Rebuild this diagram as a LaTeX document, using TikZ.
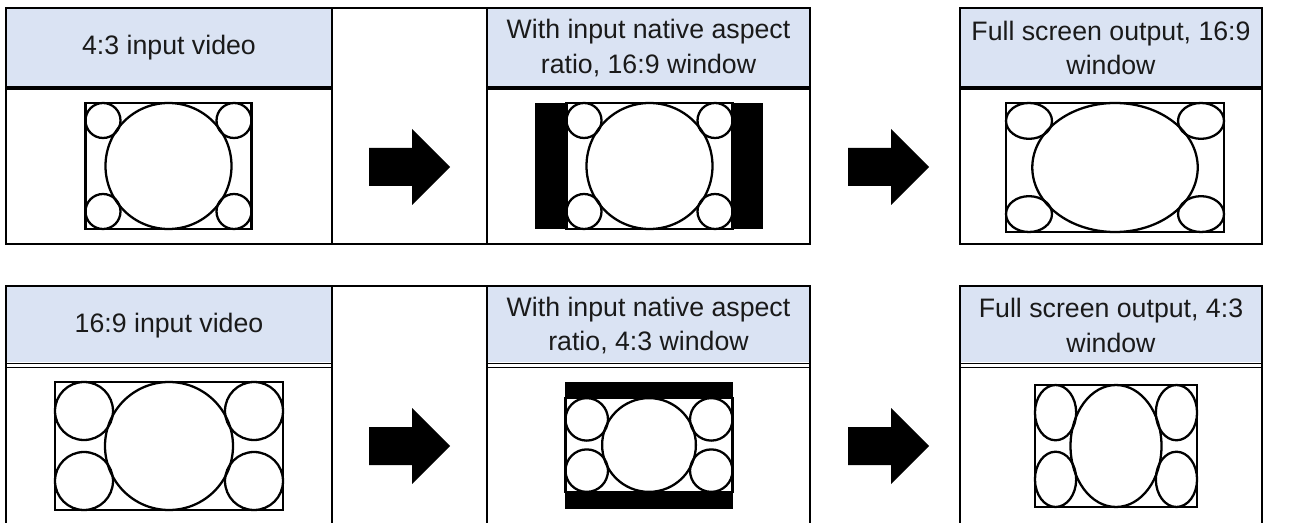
\documentclass[tikz,border=0pt]{standalone}
\usepackage{fontspec}
\setmainfont{Liberation Sans}
\usepackage{tikz}
\definecolor{headblue}{RGB}{218,227,243}
\definecolor{inkgray}{RGB}{26,26,26}

% test card, 4:3 and 16:9, drawn round the origin
\newcommand{\cardfour}{%
  \draw[cardline,fill=white] (-83,-63) rectangle (83,63);
  \draw[cardline] (0,0) ellipse [x radius=63,y radius=63];
  \foreach \sx in {-1,1}
    \foreach \sy in {-1,1}
      \draw[cardline] (\sx*65.5,\sy*45.5) ellipse [x radius=17.5,y radius=17.5];
}
\newcommand{\cardsixteen}{%
  \draw[cardline,fill=white] (-114,-64) rectangle (114,64);
  \draw[cardline] (0,0) ellipse [x radius=64,y radius=64];
  \foreach \sx in {-1,1}
    \foreach \sy in {-1,1}
      \draw[cardline] (\sx*85,\sy*35) ellipse [x radius=29,y radius=29];
}

\begin{document}
\begin{tikzpicture}[x=0.02cm,y=-0.02cm,
  frame/.style={line width=1.1pt},
  cardline/.style={line width=1.3pt},
  headtext/.style={font=\fontsize{15.2}{19.8}\selectfont,align=center,text=inkgray}]
\useasboundingbox (0,0) rectangle (1293,523);

% top row: 4:3 input
\fill[headblue] (6,8) rectangle (332,86);
\fill[headblue] (487,8) rectangle (810,86);
\fill[headblue] (960,8) rectangle (1262,86);
\draw[frame] (6,8) rectangle (810,244);
\draw[frame] (332,8) -- (332,244);
\draw[frame] (487,8) -- (487,244);
\draw[frame] (960,8) rectangle (1262,244);
\draw[line width=2.3pt] (6,88) -- (332,88);
\draw[line width=2.3pt] (487,88) -- (810,88);
\draw[line width=2.3pt] (960,88) -- (1262,88);
\node[headtext] (inA) at (169,48) {4:3 input video};
\node[headtext] (winA) at (648.5,48) {With input native aspect\\ratio, 16:9 window};
\node[headtext] (outA) at (1111,48) {Full screen output, 16:9\\window};
\begin{scope}[shift={(168.5,166)}]
\cardfour
\end{scope}
\fill (535,103) rectangle (763,229);
\begin{scope}[shift={(649.5,166)}]
\cardfour
\end{scope}
\begin{scope}[shift={(1115,167.5)},xscale=1.313,yscale=1.024]
\cardfour
\end{scope}

% bottom row: 16:9 input
\fill[headblue] (6,286) rectangle (332,362);
\fill[headblue] (487,286) rectangle (810,362);
\fill[headblue] (960,286) rectangle (1262,362);
\draw[frame] (6,523) -- (6,286) -- (810,286) -- (810,523);
\draw[frame] (332,286) -- (332,523);
\draw[frame] (487,286) -- (487,523);
\draw[frame] (960,523) -- (960,286) -- (1262,286) -- (1262,523);
\foreach \ly in {363.8,367.8} {
  \draw[line width=0.75pt] (6,\ly) -- (332,\ly);
  \draw[line width=0.75pt] (487,\ly) -- (810,\ly);
  \draw[line width=0.75pt] (960,\ly) -- (1262,\ly);
}
\node[headtext] (inB) at (169,325.5) {16:9 input video};
\node[headtext] (winB) at (648.5,325.5) {With input native aspect\\ratio, 4:3 window};
\node[headtext] (outB) at (1111,325.5) {Full screen output, 4:3\\window};
\begin{scope}[shift={(169,446)}]
\cardsixteen
\end{scope}
\fill (565,382) rectangle (733,509);
\begin{scope}[shift={(649,445)},scale=0.7325]
\cardsixteen
\end{scope}
\begin{scope}[shift={(1116,446)},xscale=0.711,yscale=0.953]
\cardsixteen
\end{scope}

% block arrows
\foreach \ax/\ay in {369/167,848/167,369/446,848/446}
  \fill (\ax,\ay-19) -- ++(43,0) -- ++(0,-19) -- ++(38,38) -- ++(-38,38)
    -- ++(0,-19) -- ++(-43,0) -- cycle;
\end{tikzpicture}
\end{document}
